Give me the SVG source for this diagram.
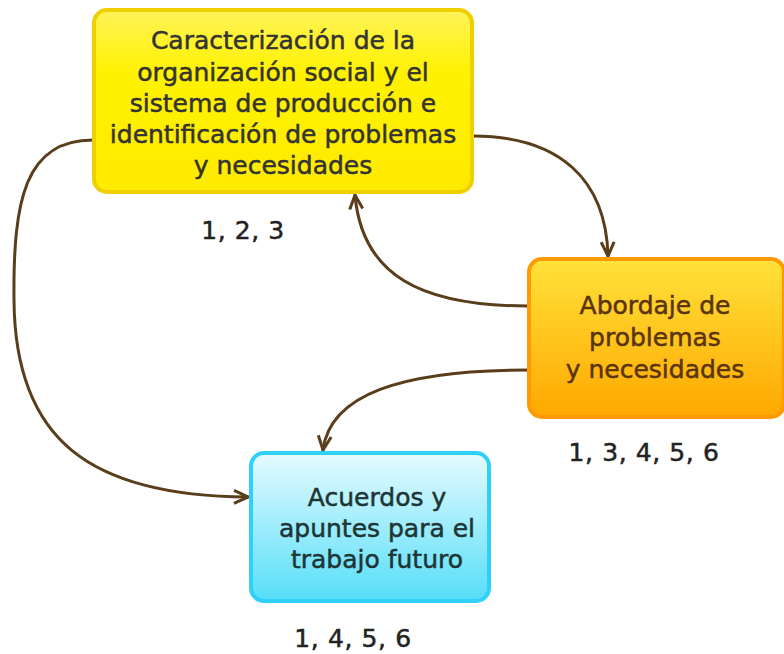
<svg xmlns="http://www.w3.org/2000/svg" width="784" height="654" viewBox="0 0 784 654">
<style>
.t{font-family:"DejaVu Sans",Verdana,sans-serif;font-size:25px;text-anchor:middle;stroke-width:0.5}
.n{font-family:"DejaVu Sans",Verdana,sans-serif;font-size:25px;text-anchor:middle;fill:#222;stroke:#222;stroke-width:0.5;letter-spacing:0.6px}
.c{fill:none;stroke:#5a3e1b;stroke-width:3;stroke-linecap:round}
</style>
<defs>
<linearGradient id="gy" x1="0" y1="0" x2="0" y2="1"><stop offset="0" stop-color="#fff35a"/><stop offset="0.35" stop-color="#fff200"/><stop offset="1" stop-color="#ffea00"/></linearGradient>
<linearGradient id="go" x1="0" y1="0" x2="0" y2="1"><stop offset="0" stop-color="#ffe23a"/><stop offset="1" stop-color="#ffa800"/></linearGradient>
<linearGradient id="gb" x1="0" y1="0" x2="0" y2="1"><stop offset="0" stop-color="#e6fbff"/><stop offset="1" stop-color="#55def8"/></linearGradient>
<marker id="ar" viewBox="0 0 16 16" refX="15" refY="8" markerWidth="16" markerHeight="16" markerUnits="userSpaceOnUse" orient="auto"><path d="M1,1.5 L15,8 L1,14.5" fill="none" stroke="#5a3e1b" stroke-width="3" stroke-linejoin="miter"/></marker>
</defs>
<rect width="784" height="654" fill="#fff"/>
<g id="connectors">
<path class="c" marker-end="url(#ar)" d="M93,140 C25,140 13,200 14,300 C15,440 90,496 248,497"/>
<path class="c" marker-end="url(#ar)" d="M473,136 C560,136 606,180 608,256"/>
<path class="c" marker-end="url(#ar)" d="M528,306 C420,306 362,275 355,195"/>
<path class="c" marker-end="url(#ar)" d="M528,370 C400,370 330,395 323,450"/>
</g>
<g id="node-caracterizacion">
<rect x="94" y="10" width="378" height="182" rx="13" fill="url(#gy)" stroke="#f0cf00" stroke-width="4"/>
<g fill="#333" stroke="#333">
<text class="t" x="283" y="49">Caracterización de la</text>
<text class="t" x="283" y="81">organización social y el</text>
<text class="t" x="283" y="112">sistema de producción e</text>
<text class="t" x="283" y="143">identificación de problemas</text>
<text class="t" x="283" y="174">y necesidades</text>
</g>
</g>
<text class="n" x="243" y="239">1, 2, 3</text>
<g id="node-abordaje">
<rect x="529" y="259" width="255" height="158" rx="13" fill="url(#go)" stroke="#ff9a00" stroke-width="4"/>
<g fill="#5a3410" stroke="#5a3410">
<text class="t" x="655" y="314">Abordaje de</text>
<text class="t" x="655" y="346">problemas</text>
<text class="t" x="655" y="378">y necesidades</text>
</g>
</g>
<text class="n" x="644" y="461">1, 3, 4, 5, 6</text>
<g id="node-acuerdos">
<rect x="251" y="453" width="238" height="148" rx="13" fill="url(#gb)" stroke="#2fd0fb" stroke-width="4"/>
<g fill="#1e3535" stroke="#1e3535">
<text class="t" x="377" y="506">Acuerdos y</text>
<text class="t" x="377" y="537">apuntes para el</text>
<text class="t" x="377" y="568">trabajo futuro</text>
</g>
</g>
<text class="n" x="353" y="647">1, 4, 5, 6</text>
</svg>
